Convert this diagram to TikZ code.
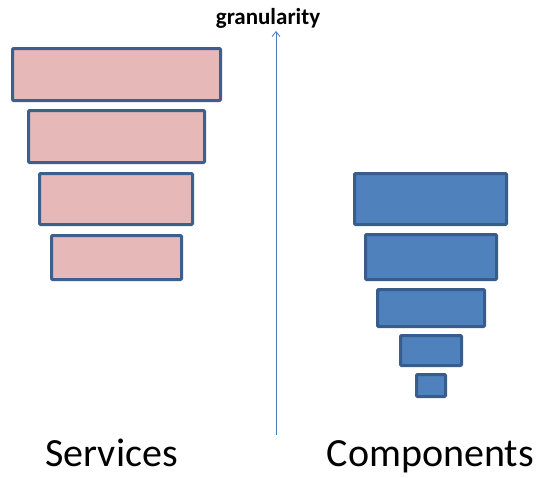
\documentclass[tikz,border=0pt]{standalone}
\usepackage{fontspec}
\setmainfont{Carlito}
\usetikzlibrary{arrows.meta, positioning}

\definecolor{svcfill}{HTML}{E6B9B8}
\definecolor{svcline}{HTML}{3D5F8E}
\definecolor{cmpfill}{HTML}{4F81BD}
\definecolor{cmpline}{HTML}{385D8A}
\definecolor{axisline}{HTML}{4A7EBB}

\begin{document}
\begin{tikzpicture}[x=1pt, y=-1pt,
	svc/.style={draw=svcline, fill=svcfill, line width=3pt, rounded corners=1pt, inner sep=0pt},
	cmp/.style={draw=cmpline, fill=cmpfill, line width=3pt, rounded corners=1pt, inner sep=0pt},
	caption/.style={font=\fontsize{40}{40}\selectfont, anchor=base, inner sep=0pt}]
				\useasboundingbox (0,0) rectangle (543,477);
				% services
				\node[svc, minimum width=208pt, minimum height=52pt] (s1) at (116.5,74.5) {};
				\node[svc, minimum width=176pt, minimum height=52pt] (s2) at (116.5,136.5) {};
				\node[svc, minimum width=153pt, minimum height=51pt] (s3) at (116,199) {};
				\node[svc, minimum width=130pt, minimum height=44pt] (s4) at (116.5,257.5) {};
				% components
				\node[cmp, minimum width=152pt, minimum height=51pt] (c1) at (430.5,199) {};
				\node[cmp, minimum width=131pt, minimum height=45pt] (c2) at (431,257) {};
				\node[cmp, minimum width=107pt, minimum height=37pt] (c3) at (431,308) {};
				\node[cmp, minimum width=61pt, minimum height=30pt] (c4) at (431,350.5) {};
				\node[cmp, minimum width=29pt, minimum height=22pt] (c5) at (431,385.5) {};
				
				\coordinate (low) at (276,435);
				\coordinate (high) at (276,31);
				\draw[axisline, line width=0.8pt, -{Straight Barb[length=5pt, width=8pt]}] (low) -- (high);
				\node[font=\bfseries\fontsize{23}{23}\selectfont, anchor=base, inner sep=0pt] (gran) at (268,24) {granularity};
				
				\node[caption] (services) at (111.5,466) {Services};
				\node[caption] (components) at (430.5,466) {Components};
\end{tikzpicture}
\end{document}
